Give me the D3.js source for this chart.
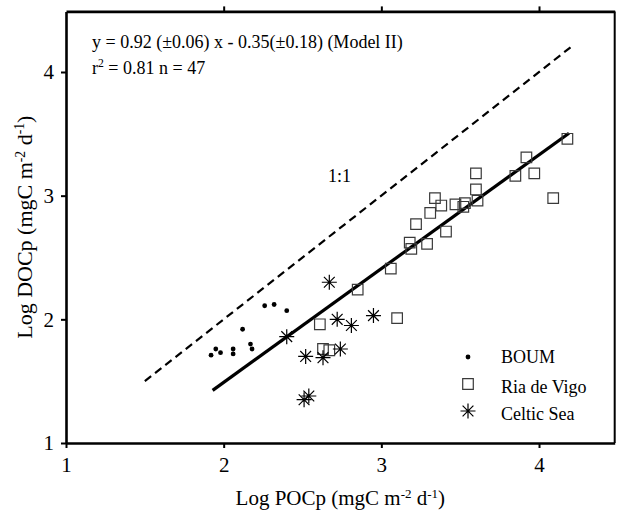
<!DOCTYPE html>
<meta charset="utf-8">
<head>
<style>
body { margin: 0; background: #fff; }
svg { font-family: "Liberation Serif", "Times New Roman", serif; }
.frame path, .frame line { stroke: #000; }
</style>
</head>
<body>
<svg></svg>
<script src="https://cdn.jsdelivr.net/npm/d3@7"></script>
<script>
// data: [log POCp, log DOCp]
var boum = [
  [1.92, 1.71], [1.95, 1.76], [1.98, 1.73], [2.06, 1.76], [2.06, 1.72],
  [2.12, 1.92], [2.17, 1.80], [2.18, 1.76], [2.26, 2.11], [2.32, 2.12],
  [2.40, 2.07]
];
var vigo = [
  [2.61, 1.96], [2.63, 1.76], [2.67, 1.75], [2.85, 2.24], [3.06, 2.41],
  [3.10, 2.01], [3.18, 2.62], [3.19, 2.57], [3.29, 2.61], [3.41, 2.71],
  [3.22, 2.77], [3.31, 2.86], [3.34, 2.98], [3.38, 2.92], [3.47, 2.93],
  [3.53, 2.94], [3.52, 2.91], [3.61, 2.96], [3.60, 3.05], [3.60, 3.18],
  [3.85, 3.16], [3.92, 3.31], [3.97, 3.18], [4.09, 2.98], [4.18, 3.46]
];
var celtic = [
  [2.67, 2.30], [2.40, 1.86], [2.72, 2.00], [2.81, 1.95], [2.95, 2.03],
  [2.74, 1.76], [2.52, 1.70], [2.63, 1.69], [2.54, 1.38], [2.51, 1.35]
];
var xTicks = [1, 2, 3, 4];
var yTicks = [1, 2, 3, 4];
var oneToOne = [1.5, 4.2];      // x extent of the 1:1 line
var fitRange = [1.93, 4.19];    // x extent of the model II fit
var slope = 0.92, intercept = -0.35;
var legendNames = ["BOUM", "Ria de Vigo", "Celtic Sea"];

var width = 617, height = 510;
var svg = d3.select('svg').attr('width', width).attr('height', height);

var x = d3.scaleLinear().domain([1, 4.48]).range([66, 614.7]);
var y = d3.scaleLinear().domain([1, 4.49]).range([443, 11.4]);

// 8-arm asterisk
var symbolStar = {
  draw: function (ctx, size) {
    var r = Math.sqrt(size) / 2, d = r * 0.72;
    ctx.moveTo(-r, 0); ctx.lineTo(r, 0);
    ctx.moveTo(0, -r); ctx.lineTo(0, r);
    ctx.moveTo(-d, -d); ctx.lineTo(d, d);
    ctx.moveTo(-d, d); ctx.lineTo(d, -d);
  }
};

// lines
svg.append('line')
  .attr('x1', x(oneToOne[0])).attr('y1', y(oneToOne[0]))
  .attr('x2', x(oneToOne[1])).attr('y2', y(oneToOne[1]))
  .attr('stroke', '#000').attr('stroke-width', 2.2).attr('stroke-dasharray', '8,5');

svg.append('line')
  .attr('x1', x(fitRange[0])).attr('y1', y(slope * fitRange[0] + intercept))
  .attr('x2', x(fitRange[1])).attr('y2', y(slope * fitRange[1] + intercept))
  .attr('stroke', '#000').attr('stroke-width', 3.2);

// points
svg.append('g').selectAll('circle')
  .data(boum)
  .enter().append('circle')
  .attr('cx', function (d) { return x(d[0]); })
  .attr('cy', function (d) { return y(d[1]); })
  .attr('r', 2.4)
  .attr('fill', '#000');

var square = d3.symbol().type(d3.symbolSquare).size(112);
svg.append('g').selectAll('path')
  .data(vigo)
  .enter().append('path')
  .attr('d', square)
  .attr('transform', function (d) { return 'translate(' + x(d[0]) + ',' + y(d[1]) + ')'; })
  .attr('fill', 'none').attr('stroke', '#3a3a3a').attr('stroke-width', 1.2);

var star = d3.symbol().type(symbolStar).size(225);
svg.append('g').selectAll('path')
  .data(celtic)
  .enter().append('path')
  .attr('d', star)
  .attr('transform', function (d) { return 'translate(' + x(d[0]) + ',' + y(d[1]) + ')'; })
  .attr('fill', 'none').attr('stroke', '#000').attr('stroke-width', 1.2);

// frame + axes
function styleAxis(g) {
  g.attr('font-family', '"Liberation Serif", serif');
  g.select('.domain').attr('stroke-width', 2.6);
  g.selectAll('.tick line').attr('stroke-width', 2);
  g.selectAll('.tick text').attr('font-size', 21).attr('fill', '#000');
}

svg.append('g').attr('class', 'frame')
  .attr('transform', 'translate(0,' + y(1) + ')')
  .call(d3.axisBottom(x).tickValues(xTicks).tickFormat(d3.format('d'))
    .tickSize(5).tickSizeOuter(0).tickPadding(9))
  .call(styleAxis);

svg.append('g').attr('class', 'frame')
  .attr('transform', 'translate(' + x(1) + ',0)')
  .call(d3.axisLeft(y).tickValues(yTicks).tickFormat(d3.format('d'))
    .tickSize(5).tickSizeOuter(0).tickPadding(7))
  .call(styleAxis);

svg.append('g').attr('class', 'frame')
  .attr('transform', 'translate(0,' + y(4.49) + ')')
  .call(d3.axisTop(x).tickValues(xTicks.slice(1)).tickSize(5).tickSizeOuter(0).tickFormat(''))
  .call(styleAxis);

svg.append('line')
  .attr('x1', x(4.48)).attr('y1', y(4.49))
  .attr('x2', x(4.48)).attr('y2', y(1))
  .attr('stroke', '#000').attr('stroke-width', 2);

// axis titles
function unitText(sel, label) {
  sel.append('tspan').text(label + ' (mgC m');
  sel.append('tspan').attr('font-size', '0.62em').attr('dy', '-0.55em').text('-2');
  sel.append('tspan').attr('dy', '0.34em').text(' d');
  sel.append('tspan').attr('font-size', '0.62em').attr('dy', '-0.55em').text('-1');
  sel.append('tspan').attr('dy', '0.34em').text(')');
}

svg.append('text')
  .attr('x', (x(1) + x(4.48)) / 2).attr('y', 505)
  .attr('text-anchor', 'middle').attr('font-size', 21)
  .call(unitText, 'Log POCp');

svg.append('text')
  .attr('transform', 'translate(32,' + (y(1) + y(4.49)) / 2 + ') rotate(-90)')
  .attr('text-anchor', 'middle').attr('font-size', 22)
  .call(unitText, 'Log DOCp');

// equation
svg.append('text')
  .attr('x', 92).attr('y', 48).attr('font-size', 18)
  .text('y = 0.92 (\u00b10.06) x - 0.35(\u00b10.18) (Model II)');
var r2 = svg.append('text').attr('x', 92).attr('y', 74).attr('font-size', 18);
r2.append('tspan').text('r');
r2.append('tspan').attr('font-size', '0.65em').attr('dy', '-0.6em').text('2');
r2.append('tspan').attr('dy', '0.39em').text(' = 0.81 n = 47');

svg.append('text')
  .attr('x', 328).attr('y', 182).attr('font-size', 18)
  .text('1:1');

// legend
var legendSymbols = [null, square, star];
var leg = svg.append('g').selectAll('g')
  .data(legendNames)
  .enter().append('g')
  .attr('transform', function (d, i) { return 'translate(468,' + [357, 384, 411][i] + ')'; });

leg.each(function (d, i) {
  var g = d3.select(this);
  if (i === 0) {
    g.append('circle').attr('r', 2.4).attr('fill', '#000');
  } else {
    g.append('path').attr('d', legendSymbols[i])
      .attr('fill', 'none').attr('stroke', i === 1 ? '#3a3a3a' : '#000').attr('stroke-width', 1.2);
  }
  g.append('text').attr('x', 33).attr('y', [6, 9, 9][i]).attr('font-size', 18).text(d);
});
</script>
</body>
</html>
